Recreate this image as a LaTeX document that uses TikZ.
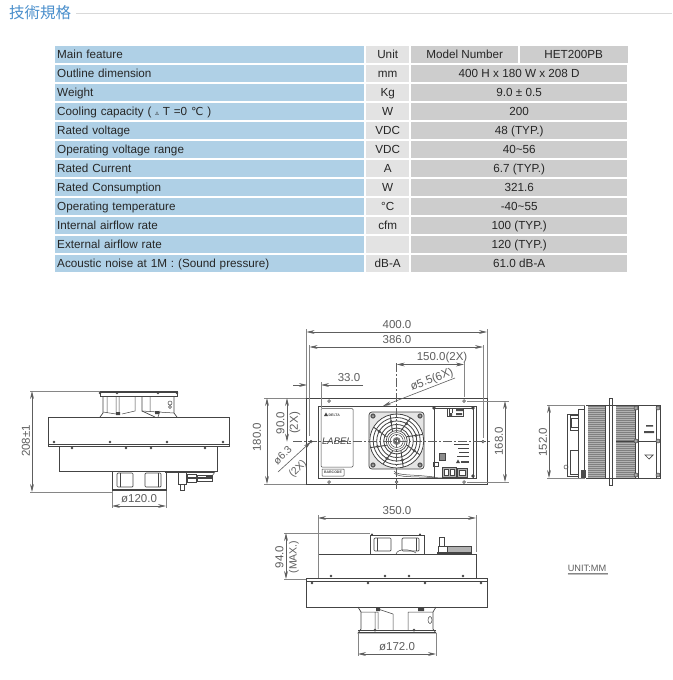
\documentclass[tikz,border=0pt]{standalone}
\usepackage{fontspec}
\setmainfont{Liberation Sans}
\newfontfamily\cjkfont{Noto Sans CJK TC}
\newfontfamily\symfont{DejaVu Sans}
\usetikzlibrary{arrows.meta}
\definecolor{cellblue}{HTML}{AFD0E6}
\definecolor{cellunit}{HTML}{E3E3E3}
\definecolor{cellval}{HTML}{CDCDCD}
\definecolor{titleblue}{HTML}{4A8FCC}
\definecolor{dimgray}{HTML}{5E5E5E}
\definecolor{bodygray}{HTML}{444444}
\tikzset{
 cell/.style={anchor=west,inner sep=0pt,minimum height=17.5pt,text height=9.4pt,text depth=1.8pt,text=black!85,font=\fontsize{11.7}{14}\selectfont},
 bluecell/.style={cell,fill=cellblue,minimum width=309pt,text width=305pt,align=left},
 unitcell/.style={cell,fill=cellunit,minimum width=43pt,align=center},
 valcell/.style={cell,fill=cellval,minimum width=216pt,align=center},
 dimline/.style={draw=dimgray,line width=.6pt,{Stealth[length=8pt,width=3.8pt]}-{Stealth[length=8pt,width=3.8pt]}},
 oneway/.style={draw=dimgray,line width=.6pt,-{Stealth[length=8pt,width=3.8pt]}},
 extline/.style={draw=dimgray!75,line width=.5pt},
 dimtext/.style={text=dimgray,font=\fontsize{11.5}{13}\selectfont,inner sep=0pt},
 smalldim/.style={dimtext,font=\fontsize{10.5}{12}\selectfont},
 body/.style={draw=bodygray,line width=.7pt},
 thin body/.style={draw=bodygray,line width=.5pt},
 thick body/.style={draw=bodygray,line width=1pt},
 centre/.style={draw=dimgray,line width=.5pt,dash pattern=on 9pt off 2pt on 2pt off 2pt},
}
\newcommand{\holes}[2]{\foreach \hx in {#1} \fill[bodygray] (\hx,#2) circle (1.4pt);}
\newcommand{\ringholes}[2]{\foreach \hx in {#1} {\draw[thin body] (\hx,#2) circle (1.4pt); \fill[bodygray] (\hx,#2) circle (.6pt);}}
\begin{document}
\begin{tikzpicture}[x=1pt,y=-1pt]
\useasboundingbox (0,0) rectangle (672,680);
\fill[white] (0,0) rectangle (672,680);
% title
\node[anchor=west,inner sep=0pt,text=titleblue,font=\fontsize{15.5}{17}\cjkfont] (title) at (9,13) {技術規格};
\coordinate (ruleend) at (672,13.5);
\draw[draw=black!15,line width=1pt] (title.east |- ruleend) ++(5,0) -- (ruleend);
% table
\foreach \r/\lab/\un/\val [count=\i from 0] in {
 1/Outline dimension/mm/400 H x 180 W x 208 D,
 2/Weight/Kg/9.0 ± 0.5,
 3/{Cooling capacity ( {\symfont\fontsize{7}{8}\selectfont ▵} T =0 {\symfont\fontsize{11}{12}\selectfont ℃} )}/W/200,
 4/Rated voltage/VDC/48 (TYP.),
 5/Operating voltage range/VDC/40\textasciitilde 56,
 6/Rated Current/A/6.7 (TYP.),
 7/Rated Consumption/W/321.6,
 8/Operating temperature/°C/-40\textasciitilde 55,
 9/Internal airflow rate/cfm/100 (TYP.),
 10/External airflow rate/{}/120 (TYP.),
 11/Acoustic noise at 1M : (Sound pressure)/dB-A/61.0 dB-A} {
 \node[bluecell] (lab\r) at (55,{54.5+19*\r}) {\lab};
 \node[unitcell] (unit\r) at (366,{54.5+19*\r}) {\un};
 \node[valcell] (val\r) at (411,{54.5+19*\r}) {\val};
}
\node[bluecell] (lab0) at (55,54.5) {Main feature};
\node[unitcell] (unit0) at (366,54.5) {Unit};
\node[cell,fill=cellval,minimum width=107pt,align=center] (model) at (411,54.5) {Model Number};
\node[cell,fill=cellval,minimum width=108pt,align=center] (het) at (519.5,54.5) {HET200PB};

% ===== LEFT VIEW =====
\draw[body] (48,417) rectangle (229,446);
\draw[thin body] (48,444) -- (229,444);
\holes{54,110,167,223}{442}
\draw[body] (59,446) -- (59,471) -- (217,471) -- (217,446);
\holes{72,126,151,205}{448}
% top fan
\draw[thick body] (100,392.5) -- (177,392.5);
\draw[thin body] (100,391) rectangle (177,396);
\draw[body] (103,396) -- (103,413) -- (100,417);
\draw[thin body] (107,396)--(107,413) (116,396)--(116,414) (119,396)--(119,414) (135,396)--(135,411) (122,414)--(135,411);
\draw[thin body] (103,412)--(116,414);
\draw[body] (142,396) -- (142,411) -- (155,417);
\draw[body] (174,396) -- (174,413) -- (177,417);
\draw[thin body] (150,396)--(150,411) (142,411)--(174,413) (160,411)--(158,417);
\fill[bodygray] (116,412) rectangle (120,415) (155,411) rectangle (159,414);
\draw[thin body] (170,403) circle (2pt) (170,407) circle (1.5pt);
\fill[bodygray] (100,393) circle (1.4pt) (117,393) circle (1.4pt) (177,393) circle (1.4pt) (158,393) circle (1.4pt);
% bottom fan
\draw[body] (112,471) rectangle (166,490);
\draw[thick body] (112,489.5) -- (166,489.5);
\draw[body,rounded corners=1pt] (117,473) rectangle (133,487);
\draw[body,rounded corners=1pt] (145,473) rectangle (161,487);
\draw[thin body] (120,473)--(120,487) (158,473)--(158,487);
% connector
\draw[body] (165,472) -- (214,472);
\draw[thin body] (178,472) rectangle (186,484) (180,484) rectangle (184,490);
\draw[thick body] (188,477) rectangle (212,478.5);
\draw[thin body] (187,474) rectangle (196,482) (197,475) rectangle (212,481);
\fill[bodygray] (206,475) rectangle (212,478);
\draw[thin body] (212,476) -- (215,472);

\coordinate (a1) at (32,391); \coordinate (a2) at (32,492);
\draw[extline] (100,391) -- (30,391);
\draw[extline] (112,492) -- (30,492);
\draw[dimline] (a1) -- (a2);
\node[dimtext,rotate=90] (d208) at (26,441) {208±1};
\coordinate (b1) at (112,506); \coordinate (b2) at (166,506);
\draw[extline] (112,491) -- (112,508) (166,491) -- (166,508);
\draw[dimline] (b1) -- (b2);
\node[dimtext] (d120) at (139,498.5) {ø120.0};

% ===== FRONT VIEW =====
\draw[body] (306.5,398) rectangle (487,484);
\draw[body,line width=.9pt] (318,406) rectangle (476,478);
\draw[thin body,rounded corners=1pt] (321,408.5) rectangle (353,467);
\draw[thin body,rounded corners=.5pt] (322,469) rectangle (344,476);
\node[inner sep=0pt,font=\fontsize{3.5}{4}\bfseries\selectfont,text=bodygray] (barcode) at (333,472.5) {BARCODE};
\fill[bodygray] (324,416) -- (328,416) -- (326,412.5) -- cycle;
\node[inner sep=0pt,anchor=west,font=\fontsize{3.5}{4}\bfseries\selectfont,text=bodygray] (brand) at (328.5,415) {DELTA};
% fan
\draw[body,rounded corners=3pt,fill=black!10] (369,412) rectangle (424,469);
\fill[white] (396.7,441) circle (27.5pt);
\foreach \rr in {27,23.5,20,16.5,13} \draw[bodygray,line width=.8pt] (396.7,441) circle (\rr pt);
\draw[bodygray,line width=.7pt,fill=white] (396.7,441) circle (10.5pt);
\foreach \rr in {8.5,6.5} \draw[thin body] (396.7,441) circle (\rr pt);
\fill[black!50] (396.7,441) circle (4pt);
\draw[thin body,fill=white] (396.7,441) circle (2pt);
\foreach \ang in {22,67,112,157,202,247,292,337} {
 \draw[bodygray,line width=.9pt] (396.7,441) ++(\ang:11) -- ++(\ang+15:16);
 \fill[black!70] (396.7,441) ++(\ang+7:20) circle (1.6pt);
}
\foreach \px/\py in {373/416,420/416,373/465,420/465} {\fill[black!65] (\px,\py) circle (2.6pt); \fill[black!25] (\px,\py) circle (1pt);}
% pcb
\draw[body] (434,408) -- (434,478) (473,408) -- (473,478);
\draw[body] (434,408) -- (473,408);
\fill[bodygray] (434,408) circle (1.8pt) (473,408) circle (1.8pt) (473,476) circle (1.8pt);
\draw[thin body] (447,408) rectangle (463,416);
\fill[black!70] (456,408) rectangle (463,411) (449,413) rectangle (452,416) (456,413) rectangle (462,415);
\draw[thin body] (449,408)--(449,413) (452,408)--(452,413);
\foreach \yy/\xa in {444/454,448/458,452/459,456/457} {\draw[bodygray,line width=1pt,dash pattern=on 1.5pt off .5pt] (\xa,\yy) -- (469,\yy);}
\fill[bodygray] (456,463) -- (460,463) -- (458,459.5) -- cycle;
\fill[black!70] (461,460.5) rectangle (469,462.5);
\draw[thin body,fill=black!45] (439,453) rectangle (445,460);
\draw[thin body] (433,462) rectangle (438,466);
\draw[body,fill=black!30] (442,467) rectangle (456,477);
\draw[thin body,fill=white] (444,469) rectangle (448,475) (450,469) rectangle (454,475);
\draw[body,fill=black!30] (457,468) rectangle (467,477);
\draw[thin body,fill=white] (459,470) rectangle (465,475);
\draw[thin body] (394,471)..controls (398,476) and (410,474)..(434,477);
\draw[thin body] (394,473)..controls (400,478) and (410,476)..(442,478);
% centre lines
\coordinate (cl1) at (293,441.7); \coordinate (cl2) at (490,441.7);
\draw[centre] (cl1) -- (cl2);
\node[inner sep=0pt,font=\fontsize{9.5}{11}\itshape\selectfont,text=bodygray] (labeltxt) at (337,441.5) {LABEL};
\coordinate (cv1) at (396.7,363); \coordinate (cv2) at (396.7,489);
\draw[centre] (cv1) -- (cv2);
\ringholes{329,464}{401}
\ringholes{329,396.7,464}{482}
\ringholes{311,483}{441.7}
% dimensions
\coordinate (w1) at (306.5,332); \coordinate (w2) at (487,332);
\draw[extline] (306.5,329) -- (306.5,398) (487,329) -- (487,398);
\draw[dimline] (w1) -- (w2);
\node[dimtext] (d400) at (397,325) {400.0};
\coordinate (h1) at (309.5,347); \coordinate (h2) at (483,347);
\draw[extline] (309.5,345) -- (309.5,436) (483,345) -- (483,438);
\draw[dimline] (h1) -- (h2);
\node[dimtext] (d386) at (397,340) {386.0};
\coordinate (p1) at (396.7,364.5); \coordinate (p2) at (464,364.5);
\draw[extline] (464,362) -- (464,397);
\draw[dimline] (p1) -- (p2);
\node[dimtext] (d150) at (442,357.5) {150.0(2X)};
\coordinate (s1) at (293,385); \coordinate (s2) at (307,385);
\coordinate (s3) at (363,385); \coordinate (s4) at (321,385);
\draw[oneway] (s1) -- (s2);
\draw[oneway] (s3) -- (s4);
\draw[extline] (321,382) -- (321,408);
\node[dimtext] (d33) at (349,377.5) {33.0};
\coordinate (l1) at (455,378); \coordinate (l2) at (383,406);
\draw[oneway] (l1) -- (l2);
\node[dimtext,rotate=21] (d55) at (432,380) {ø5.5(6X)};
\coordinate (q1) at (278,472); \coordinate (q2) at (311,441.7);
\draw[oneway] (q1) -- (q2);
\node[smalldim,rotate=45] (d63) at (282.5,455.5) {ø6.3};
\node[smalldim,rotate=45] (d2x) at (298,469) {(2X)};
\coordinate (n1) at (287,398); \coordinate (n2) at (287,441.7);
\draw[extline] (264,398) -- (306,398) (264,484) -- (306,484);
\draw[dimline] (n1) -- (n2);
\node[dimtext,rotate=90] (d90) at (280.5,423) {90.0};
\node[dimtext,rotate=90] (d902) at (295,423) {(2X)};
\coordinate (t1) at (267,398); \coordinate (t2) at (267,484);
\draw[dimline] (t1) -- (t2);
\node[dimtext,rotate=90] (d180) at (257,437) {180.0};
\coordinate (o1) at (505,401); \coordinate (o2) at (505,482);
\draw[extline] (467,401) -- (509,401) (467,482) -- (509,482);
\draw[dimline] (o1) -- (o2);
\node[dimtext,rotate=90] (d168) at (499,441) {168.0};

% ===== BOTTOM VIEW =====
\draw[body] (306.5,578) rectangle (487,607);
\draw[thin body] (306.5,581) -- (487,581);
\draw[thick body] (306.5,607) -- (487,607);
\holes{312,368,425,481}{583}
\draw[body] (318,578) -- (318,554) -- (476,554) -- (476,578);
\holes{331,385,409,463}{576}
% fan above
\draw[body] (370,535) rectangle (424,554);
\draw[thick body] (370,535) -- (424,535);
\draw[body,rounded corners=1pt] (374,538) rectangle (391,551);
\draw[body,rounded corners=1pt] (402,538) rectangle (419,551);
\draw[thin body] (377,538)--(377,551) (416,538)--(416,551);
\fill[bodygray] (372,534.5) circle (1.2pt) (420,534.5) circle (1.2pt);
\draw[thin body] (396,554)..controls (398,548) and (410,549)..(416,553);
% connector
\draw[thin body] (439,537) rectangle (444,546);
\draw[thin body] (438,546) rectangle (447,552);
\draw[thin body,fill=black!30] (447,546) rectangle (471,552);
\fill[bodygray] (437,552) rectangle (472,554);
% fan below
\draw[body] (358,607) -- (361,612) -- (361,629) -- (358,633) -- (436,633) -- (433,629) -- (433,612) -- (436,607);
\draw[thick body] (358,632.5) -- (436,632.5);
\draw[thin body] (358,630) -- (436,630);
\draw[thin body] (375,612)--(375,629) (378,612)--(378,629) (393,614)--(393,630) (408,612)--(408,630) (361,612)--(378,612) (378,609)--(393,614) (408,612)--(433,612);
\draw[thin body] (430,620) ellipse (2pt and 3.5pt);
\fill[bodygray] (376,608) rectangle (380,611) (418,608) rectangle (424,611);
\fill[bodygray] (375,630) circle (1.5pt) (414,630) circle (1.5pt);
% dims
\coordinate (u1) at (318,518); \coordinate (u2) at (476,518);
\draw[extline] (318,515) -- (318,578) (476,515) -- (476,552);
\draw[dimline] (u1) -- (u2);
\node[dimtext] (d350) at (397,511) {350.0};
\coordinate (v1) at (286,533); \coordinate (v2) at (286,579);
\draw[extline] (284,533) -- (370,533) (284,579) -- (306,579);
\draw[dimline] (v1) -- (v2);
\node[dimtext,rotate=90] (d94) at (279.5,557) {94.0};
\node[smalldim,rotate=90] (d94b) at (294,557) {(MAX.)};
\coordinate (x1) at (358,654); \coordinate (x2) at (436,654);
\draw[extline] (358,633) -- (358,656) (436,633) -- (436,656);
\draw[dimline] (x1) -- (x2);
\node[dimtext] (d172) at (397,647) {ø172.0};

% ===== RIGHT VIEW =====
\draw[body] (584,405) -- (584,478);
\draw[body] (567,414) rectangle (578,476);
\draw[thin body] (570,415) rectangle (578,430) (571,418) rectangle (578,427) (570,450) rectangle (578,474);
\draw[body] (578,409) -- (585,409) (578,409) -- (578,478) (578,478) -- (585,478);
\fill[black!70] (581,470) rectangle (586,478);
\draw[thin body] (566,467) circle (2pt);
\fill[black!30] (588,405) rectangle (605,478);
\foreach \yy in {406,408,...,478} \draw[black!50,line width=.45pt] (588,\yy) -- (605,\yy);
\draw[thin body] (605,405) rectangle (616,478);
\draw[body,fill=white] (609,398) rectangle (612,485);
\fill[black!30] (616,405) rectangle (635,478);
\foreach \yy in {406,408,...,478} \draw[black!50,line width=.45pt] (616,\yy) -- (635,\yy);
\draw[body] (616,441) -- (635,441);
\draw[body] (586,405) -- (660,405) (586,478) -- (660,478);
\draw[body] (635,405) rectangle (660,478);
\draw[body] (636,441) -- (660,441);
\draw[thin body] (638,405) -- (638,478) (656,405) -- (656,478);
\foreach \px/\py in {636/408,636/441,636/475,658/408,658/441,658/475} \draw[thin body,fill=black!35] (\px,\py) circle (2pt);
\fill[black!70] (644,431) rectangle (654,433) (646,425) rectangle (653,426.5);
\draw[body] (645,455) -- (653,455) -- (649,459) -- cycle;
\coordinate (y1) at (549,405); \coordinate (y2) at (549,478);
\draw[extline] (547,405) -- (585,405) (547,478) -- (585,478);
\draw[dimline] (y1) -- (y2);
\node[dimtext,rotate=90] (d152) at (543,442) {152.0};

% unit
\node[dimtext,font=\fontsize{9.2}{11}\selectfont] (unitmm) at (587,568.5) {UNIT:MM};
\draw[extline] (unitmm.south west) ++(0,1) -- ++(40,0);
\draw[extline,draw=black!25,line width=.8pt] (unitmm.south west) ++(0,2.5) -- ++(40,0);
\end{tikzpicture}
\end{document}
